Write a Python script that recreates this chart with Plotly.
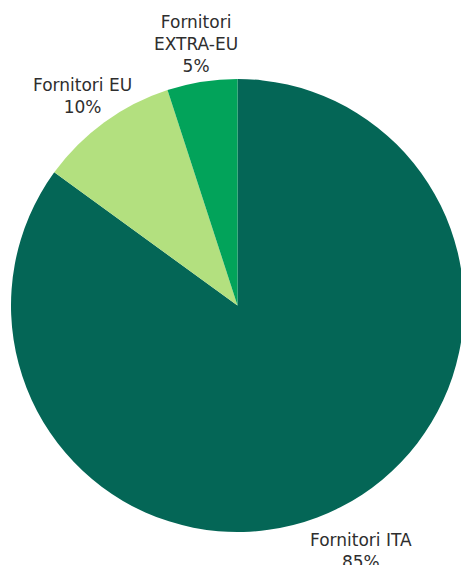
import plotly.graph_objects as go

labels = ["Fornitori ITA", "Fornitori EU", "Fornitori EXTRA-EU"]
label_text = ["Fornitori ITA", "Fornitori EU", "Fornitori<br>EXTRA-EU"]
values = [85, 10, 5]
colors = ["#046656", "#b3e07f", "#02a35a"]

W, H = 464, 565
# label anchor points in pixels (centre of text block)
label_pos = [(361, 551), (82, 96), (196, 44)]

fig = go.Figure(go.Pie(
    labels=labels,
    values=values,
    sort=False,
    direction="clockwise",
    rotation=0,
    marker=dict(colors=colors, line=dict(width=0)),
    textinfo="none",
    hoverinfo="label+percent",
    domain=dict(x=[11 / W, 1], y=[1 - 532 / H, 1 - 79 / H]),
    showlegend=False,
))

for txt, v, (px, py) in zip(label_text, values, label_pos):
    fig.add_annotation(
        x=px / W, y=1 - py / H, xref="paper", yref="paper",
        text=f"{txt}<br>{v}%", showarrow=False,
        xanchor="center", yanchor="middle", align="center",
        font=dict(family="DejaVu Sans", size=17, color="#2e2e2e"),
    )

fig.update_layout(
    width=W, height=H,
    margin=dict(l=0, r=0, t=0, b=0),
    paper_bgcolor="white", plot_bgcolor="white",
)

fig.write_html(
    "out.html",
    config={"displayModeBar": False},
    post_script="document.body.style.margin='0';document.body.style.overflow='hidden';",
)
